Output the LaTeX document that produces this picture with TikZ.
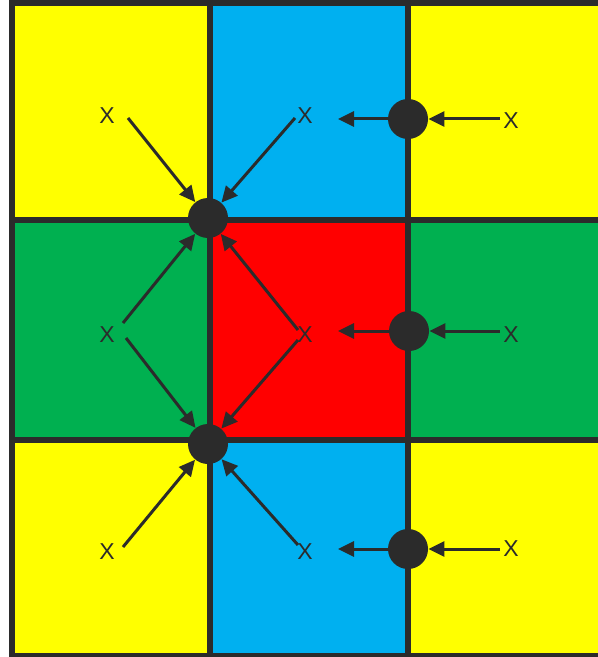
\documentclass[tikz,border=0pt]{standalone}
\usepackage{fontspec}
\setmainfont{Liberation Sans}
\usetikzlibrary{arrows.meta,positioning}
\definecolor{CellYellow}{RGB}{255,255,0}
\definecolor{CellBlue}{RGB}{0,176,240}
\definecolor{CellGreen}{RGB}{0,176,80}
\definecolor{CellRed}{RGB}{255,0,0}
\definecolor{InkGray}{RGB}{43,43,43}
\tikzset{
  gridline/.style={draw=InkGray,line width=2.6pt},
  edgedot/.style={circle,fill=InkGray,minimum size=20pt,inner sep=0pt},
  varlabel/.style={text=InkGray,font=\fontsize{11.5}{13}\selectfont,inner sep=0pt},
  pull/.style={-{Triangle[length=8pt,width=7.5pt]},line width=1.5pt,draw=InkGray}
}
\begin{document}
\begin{tikzpicture}[x=0.5pt,y=-0.5pt]
\useasboundingbox (0,0) rectangle (598,657);
% cells
\fill[CellYellow] (12,3) rectangle (210,220);
\fill[CellBlue] (210,3) rectangle (408,220);
\fill[CellYellow] (408,3) rectangle (598,220);
\fill[CellGreen] (12,220) rectangle (210,440);
\fill[CellRed] (210,220) rectangle (408,440);
\fill[CellGreen] (408,220) rectangle (598,440);
\fill[CellYellow] (12,440) rectangle (210,656);
\fill[CellBlue] (210,440) rectangle (408,656);
\fill[CellYellow] (408,440) rectangle (598,656);
% grid lines
\draw[gridline] (9.4,3) -- (598,3);
\draw[gridline] (12,0) -- (12,657);
\draw[gridline] (9.4,656) -- (598,656);
\draw[gridline] (210,3) -- (210,656);
\draw[gridline] (408,3) -- (408,656);
\draw[gridline] (12,220) -- (598,220);
\draw[gridline] (12,440) -- (598,440);

% dots
\node[edgedot] (d1) at (208,218) {};
\node[edgedot] (d2) at (408,119) {};
\node[edgedot] (d3) at (409,331) {};
\node[edgedot] (d4) at (208,444) {};
\node[edgedot] (d5) at (408,549) {};

% labels
\node[varlabel] (x1) at (107,116) {X};
\node[varlabel] (x2) at (305,116) {X};
\node[varlabel] (x3) at (511,121) {X};
\node[varlabel] (x4) at (107,335) {X};
\node[varlabel] (x5) at (305,335) {X};
\node[varlabel] (x6) at (511,335) {X};
\node[varlabel] (x7) at (107,552) {X};
\node[varlabel] (x8) at (305,552) {X};
\node[varlabel] (x9) at (511,549) {X};

% arrows
\draw[pull] ([shift={(21,2)}]x1.center) -- (d1);
\draw[pull] ([shift={(-10,2)}]x2.center) -- (d1);
\draw[pull] ([shift={(-11,-2)}]x3.center) -- (d2);
\draw[pull] (d2) -- ([shift={(33,3)}]x2.center);
\draw[pull] ([shift={(16,-12)}]x4.center) -- (d1);
\draw[pull] ([shift={(19,3)}]x4.center) -- (d4);
\draw[pull] ([shift={(-7,-5)}]x5.center) -- (d1);
\draw[pull] ([shift={(-7,5)}]x5.center) -- (d4);
\draw[pull] ([shift={(-11,-4)}]x6.center) -- (d3);
\draw[pull] (d3) -- ([shift={(33,-4)}]x5.center);
\draw[pull] ([shift={(16,-5)}]x7.center) -- (d4);
\draw[pull] ([shift={(-7,-7)}]x8.center) -- (d4);
\draw[pull] ([shift={(-11,0)}]x9.center) -- (d5);
\draw[pull] (d5) -- ([shift={(33,-3)}]x8.center);
\end{tikzpicture}
\end{document}
